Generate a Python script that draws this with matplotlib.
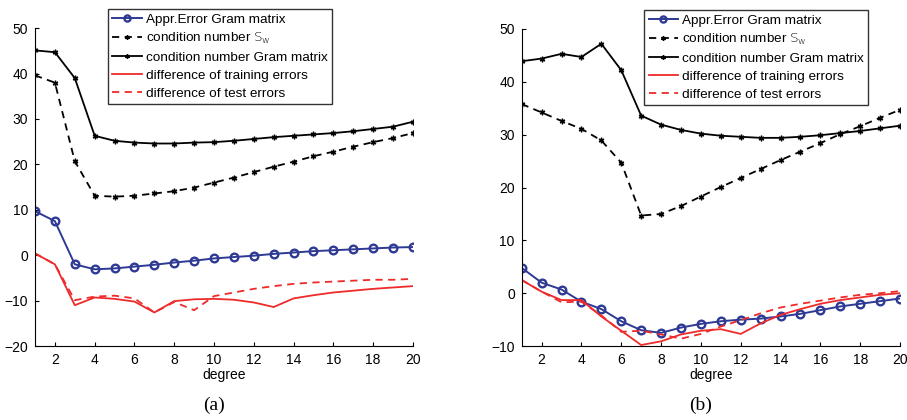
import numpy as np
import matplotlib
matplotlib.use('Agg')
import matplotlib.pyplot as plt

plt.rcParams['font.family'] = ['Liberation Sans', 'DejaVu Sans']
plt.rcParams['mathtext.fontset'] = 'custom'
plt.rcParams['mathtext.rm'] = 'DejaVu Sans:light'
plt.rcParams['mathtext.it'] = 'DejaVu Sans:light'

degree = np.arange(1, 21)

# panel (a)
a_appr = [9.7, 7.5, -2.0, -3.1, -2.9, -2.5, -2.1, -1.6, -1.2, -0.7,
          -0.4, -0.1, 0.3, 0.6, 0.9, 1.1, 1.3, 1.5, 1.7, 1.8]
a_cond_sw = [39.6, 38.0, 20.7, 13.1, 12.9, 13.1, 13.6, 14.1, 14.9, 16.0,
             17.1, 18.3, 19.5, 20.6, 21.8, 22.8, 23.9, 24.9, 25.8, 26.9]
a_cond_gram = [45.1, 44.7, 39.0, 26.3, 25.2, 24.8, 24.6, 24.6, 24.8, 24.9,
               25.2, 25.6, 26.0, 26.3, 26.6, 26.9, 27.3, 27.8, 28.3, 29.4]
a_train = [0.4, -2.0, -11.0, -9.3, -9.6, -10.2, -12.6, -10.1, -9.7, -9.6,
           -9.8, -10.4, -11.4, -9.5, -8.8, -8.2, -7.8, -7.4, -7.1, -6.8]
a_test = [0.4, -2.0, -9.9, -9.1, -8.9, -9.5, -12.6, -10.3, -12.1, -9.0,
          -8.2, -7.4, -6.8, -6.3, -6.0, -5.8, -5.6, -5.4, -5.4, -5.2]

# panel (b)
b_appr = [4.8, 2.0, 0.7, -1.6, -3.0, -5.3, -7.0, -7.5, -6.5, -5.8,
          -5.3, -5.0, -4.8, -4.4, -3.9, -3.2, -2.5, -2.0, -1.5, -1.0]
b_cond_sw = [35.8, 34.2, 32.6, 31.1, 28.9, 24.7, 14.7, 15.0, 16.5, 18.3,
             20.1, 21.8, 23.5, 25.2, 26.8, 28.4, 30.1, 31.6, 33.2, 34.7]
b_cond_gram = [43.9, 44.4, 45.3, 44.7, 47.2, 42.2, 33.6, 31.9, 30.9, 30.2,
               29.8, 29.6, 29.4, 29.4, 29.6, 29.9, 30.3, 30.7, 31.2, 31.7]
b_train = [2.5, 0.3, -1.3, -1.3, -4.4, -7.1, -9.8, -9.1, -7.8, -7.1,
           -6.8, -7.7, -5.7, -4.1, -3.0, -2.0, -1.3, -0.8, -0.3, 0.0]
b_test = [2.5, 0.3, -1.7, -1.6, -4.2, -7.3, -7.1, -7.8, -8.6, -7.7,
          -6.3, -5.1, -3.8, -2.7, -2.0, -1.4, -0.8, -0.3, 0.0, 0.4]

labels = ['Appr.Error Gram matrix', r'condition number $S_w$',
          'condition number Gram matrix', 'difference of training errors',
          'difference of test errors']

BLUE = '#2e3a94'
RED = '#ee2a2a'

fig = plt.figure(figsize=(9.07, 4.2), dpi=100)
ax_a = fig.add_axes([0.0386, 0.176, 0.4167, 0.757])
ax_b = fig.add_axes([0.5752, 0.176, 0.4171, 0.755])


def draw(ax, appr, sw, gram, train, test, ylim, legend_x):
    ax.plot(degree, appr, '-o', color=BLUE, lw=1.4, ms=5.5, mfc='none', mew=1.7)
    ax.plot(degree, sw, '--', color='black', lw=1.3, marker=(6, 2, 0), ms=4, mew=1.0, dashes=(4, 3))
    ax.plot(degree, gram, '-', color='black', lw=1.3, marker=(6, 2, 0), ms=4, mew=1.0)
    ax.plot(degree, train, '-', color=RED, lw=1.3)
    ax.plot(degree, test, '--', color=RED, lw=1.3, dashes=(4, 3))
    ax.set_xlim(1, 20)
    ax.set_ylim(*ylim)
    ax.set_xticks(range(2, 21, 2))
    ax.set_yticks(range(ylim[0], ylim[1] + 1, 10))
    ax.spines['top'].set_visible(False)
    ax.spines['right'].set_visible(False)
    ax.tick_params(direction='in', length=3, labelsize=10, pad=5)
    ax.set_xlabel('degree', fontsize=10, labelpad=1)
    leg = ax.legend(labels, loc='upper left', bbox_to_anchor=(legend_x, 1.06),
                    fontsize=9.7, frameon=True, fancybox=False, edgecolor='black',
                    handlelength=2.2, handletextpad=0.3, labelspacing=0.4,
                    borderpad=0.32, borderaxespad=0, markerscale=0.8)
    leg.get_frame().set_linewidth(1.0)


draw(ax_a, a_appr, a_cond_sw, a_cond_gram, a_train, a_test, (-20, 50), 0.193)
draw(ax_b, b_appr, b_cond_sw, b_cond_gram, b_train, b_test, (-10, 50), 0.324)

fig.text(0.236, 0.036, '(a)', fontsize=14, family='Liberation Serif', ha='center', va='center')
fig.text(0.772, 0.036, '(b)', fontsize=14, family='Liberation Serif', ha='center', va='center')

plt.savefig('out.png', dpi=100)
plt.close()
